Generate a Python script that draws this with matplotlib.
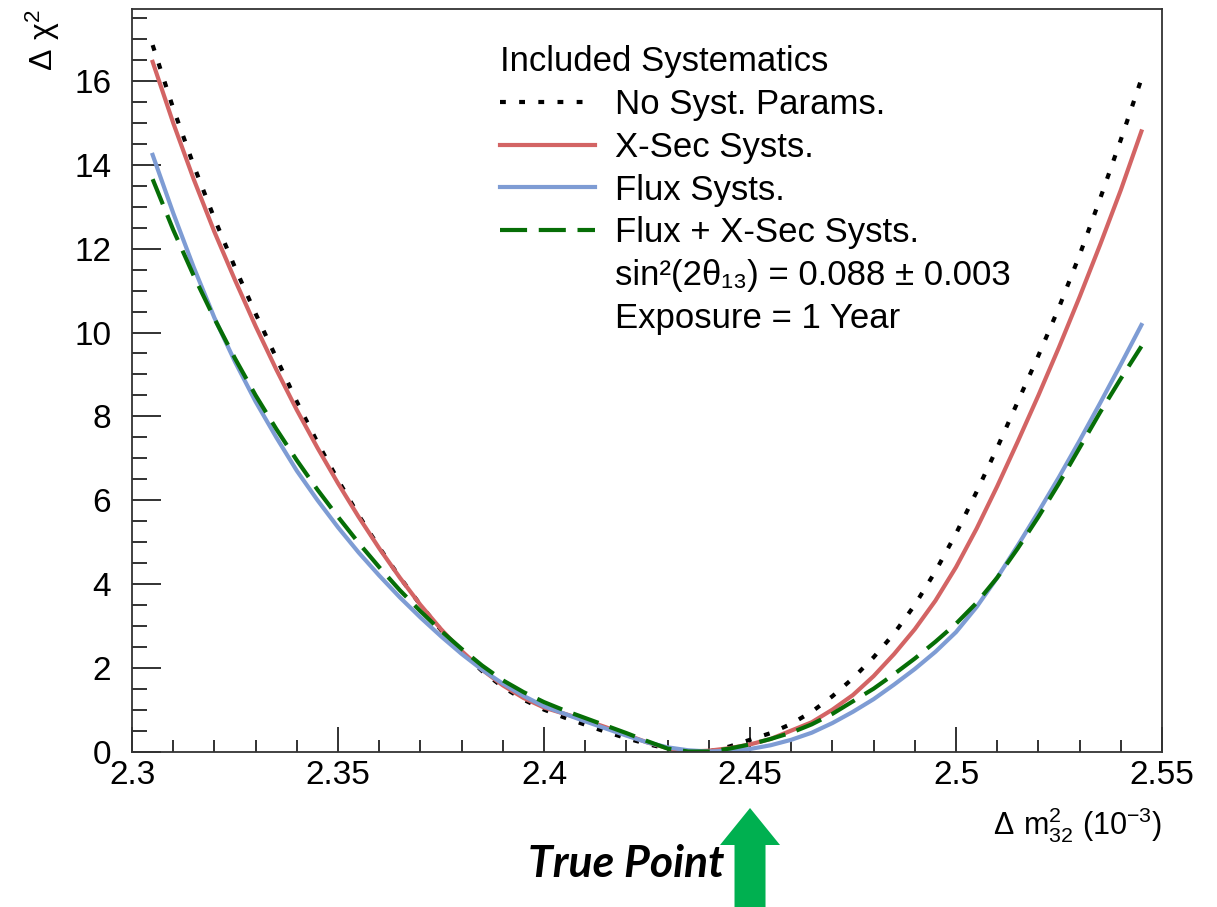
import numpy as np
import matplotlib
matplotlib.use("Agg")
import matplotlib.pyplot as plt
from matplotlib.lines import Line2D
from matplotlib.patches import FancyArrow
from matplotlib.transforms import IdentityTransform
from matplotlib.ticker import MultipleLocator, FormatStrFormatter

plt.rcParams['font.family'] = ['Liberation Sans', 'DejaVu Sans']
plt.rcParams['mathtext.default'] = 'regular'

# Delta m^2_32 scan points (10^-3 eV^2)
dm32 = [2.305, 2.310, 2.315, 2.320, 2.325, 2.330, 2.335, 2.340, 2.345, 2.350,
        2.355, 2.360, 2.365, 2.370, 2.375, 2.380, 2.385, 2.390, 2.395, 2.400,
        2.405, 2.410, 2.415, 2.420, 2.425, 2.430, 2.435, 2.440, 2.445, 2.450,
        2.455, 2.460, 2.465, 2.470, 2.475, 2.480, 2.485, 2.490, 2.495, 2.500,
        2.505, 2.510, 2.515, 2.520, 2.525, 2.530, 2.535, 2.540, 2.545]

# delta chi2 for each systematics configuration
chi2_nosyst = [16.86, 15.35, 13.98, 12.72, 11.55, 10.45, 9.40, 8.35, 7.38, 6.48,
               5.64, 4.87, 4.16, 3.50, 2.90, 2.37, 1.92, 1.54, 1.24, 1.00,
               0.81, 0.64, 0.47, 0.32, 0.18, 0.07, 0.01, 0.00, 0.12, 0.28,
               0.44, 0.66, 0.95, 1.32, 1.75, 2.25, 2.82, 3.50, 4.30, 5.20,
               6.20, 7.25, 8.35, 9.45, 10.60, 11.85, 13.20, 14.60, 16.05]
chi2_xsec = [16.46, 15.00, 13.65, 12.40, 11.25, 10.15, 9.12, 8.15, 7.25, 6.40,
             5.60, 4.85, 4.15, 3.50, 2.92, 2.40, 1.95, 1.58, 1.28, 1.05,
             0.90, 0.75, 0.58, 0.40, 0.22, 0.08, 0.00, 0.02, 0.08, 0.17,
             0.30, 0.50, 0.70, 1.00, 1.35, 1.80, 2.33, 2.92, 3.60, 4.40,
             5.32, 6.33, 7.40, 8.50, 9.65, 10.85, 12.10, 13.40, 14.80]
chi2_flux = [14.24, 12.85, 11.55, 10.35, 9.30, 8.35, 7.50, 6.70, 6.00, 5.35,
             4.75, 4.20, 3.68, 3.20, 2.75, 2.33, 1.95, 1.62, 1.33, 1.08,
             0.90, 0.72, 0.55, 0.38, 0.22, 0.10, 0.03, 0.00, 0.02, 0.06,
             0.15, 0.28, 0.45, 0.68, 0.95, 1.25, 1.60, 1.97, 2.38, 2.85,
             3.45, 4.15, 4.92, 5.72, 6.55, 7.42, 8.32, 9.24, 10.18]
chi2_both = [13.66, 12.45, 11.35, 10.33, 9.38, 8.50, 7.70, 6.95, 6.25, 5.60,
             4.98, 4.40, 3.85, 3.35, 2.88, 2.45, 2.05, 1.70, 1.42, 1.18,
             0.98, 0.80, 0.62, 0.44, 0.25, 0.07, 0.00, 0.00, 0.07, 0.17,
             0.30, 0.45, 0.65, 0.90, 1.20, 1.50, 1.85, 2.22, 2.62, 3.05,
             3.55, 4.15, 4.85, 5.60, 6.40, 7.25, 8.10, 8.90, 9.67]

true_point = 2.45

fig = plt.figure(figsize=(12.17, 9.07), dpi=100)
ax = fig.add_axes([0.1085, 0.1714, 0.8463, 0.8186])

ax.plot(dm32, chi2_nosyst, color='black', lw=3.0, dashes=(1.4, 3.2),
        label='No Syst. Params.')
ax.plot(dm32, chi2_xsec, color='#d36464', lw=3.0, label='X-Sec Systs.')
ax.plot(dm32, chi2_flux, color='#7e9cd4', lw=3.0, label='Flux Systs.')
ax.plot(dm32, chi2_both, color='#066e06', lw=3.0, dashes=(6.5, 2.8),
        label='Flux + X-Sec Systs.')

ax.set_xlim(2.3, 2.55)
ax.set_ylim(0, 17.72)
ax.xaxis.set_major_locator(MultipleLocator(0.05))
ax.xaxis.set_minor_locator(MultipleLocator(0.01))
ax.yaxis.set_major_locator(MultipleLocator(2))
ax.yaxis.set_minor_locator(MultipleLocator(0.5))
ax.xaxis.set_major_formatter(FormatStrFormatter('%g'))
ax.yaxis.set_major_formatter(FormatStrFormatter('%g'))

ax.tick_params(which='both', direction='in', top=False, right=False,
               color='#222222', width=1.3, labelsize=24)
ax.tick_params(axis='x', which='major', length=18, pad=6)
ax.tick_params(axis='x', which='minor', length=9)
ax.tick_params(axis='y', which='major', length=21, pad=15)
ax.tick_params(axis='y', which='minor', length=11)
for sp in ax.spines.values():
    sp.set_color('#333333')
    sp.set_linewidth(1.3)

ax.set_ylabel(r'$\Delta\ \chi^{2}$', fontsize=23, loc='top')
ax.yaxis.set_label_coords(-0.068, 1.0)
ax.set_xlabel(r'$\Delta\ m^{2}_{32}$ (10$^{-3}$)', fontsize=22, loc='right')
ax.xaxis.set_label_coords(1.0, -0.072)

handles, labels = ax.get_legend_handles_labels()
blank = Line2D([], [], linestyle='none')
handles += [blank, blank]
labels += ['sin²(2θ₁₃) = 0.088 ± 0.003', 'Exposure = 1 Year']
leg = ax.legend(handles, labels, title='Included Systematics', loc='upper left',
                bbox_to_anchor=(0.357, 0.951), frameon=False, fontsize=25,
                title_fontsize=25, handlelength=2.74, handletextpad=0.58,
                labelspacing=0.28, borderpad=0, borderaxespad=0)
leg._legend_box.align = 'left'

# arrow marking the true value below the axis
fig.canvas.draw()
x_px = ax.transData.transform((true_point, 0))[0]
arrow = FancyArrow(x_px, 0, 0, 99, width=31, head_width=60, head_length=37,
                   length_includes_head=True, color='#00b050', lw=0,
                   transform=IdentityTransform())
fig.add_artist(arrow)
fig.text((x_px - 26) / 1217, 0.047, 'True Point', ha='right', va='center',
         fontsize=32, fontweight='bold', style='italic', family='Lato')

fig.savefig('out.png', dpi=100)
